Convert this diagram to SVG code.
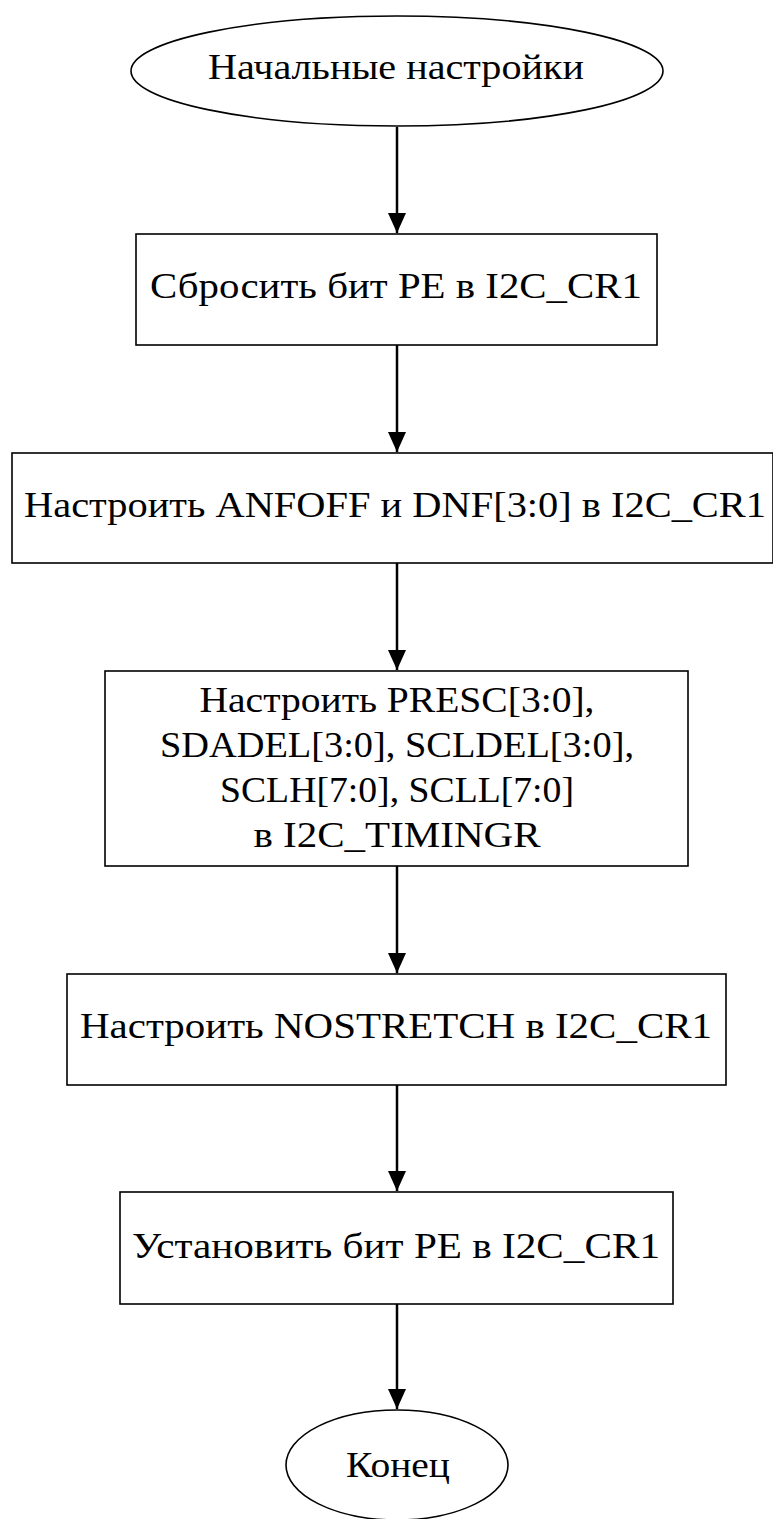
<svg xmlns="http://www.w3.org/2000/svg" width="773" height="1519" viewBox="0 0 773 1519">
<defs>
<marker id="arr" markerWidth="20" markerHeight="18" refX="20" refY="9" orient="auto" markerUnits="userSpaceOnUse">
<path d="M0,0 L20,9 L0,18 Z" fill="#000"/>
</marker>
<style>
.n{fill:#fff;stroke:#000;stroke-width:1.6}
.t{font-family:"Liberation Serif","DejaVu Serif",serif;font-size:36px;fill:#000;text-anchor:middle}
.c{stroke:#000;stroke-width:2.5;fill:none;marker-end:url(#arr)}
</style>
</defs>
<rect width="773" height="1519" fill="#fff"/>
<g id="connectors">
<line class="c" x1="397" y1="127" x2="397" y2="233"/>
<line class="c" x1="397" y1="345" x2="397" y2="452"/>
<line class="c" x1="397" y1="563" x2="397" y2="670"/>
<line class="c" x1="397" y1="866" x2="397" y2="973"/>
<line class="c" x1="397" y1="1085" x2="397" y2="1191"/>
<line class="c" x1="397" y1="1304" x2="397" y2="1409"/>
</g>
<g id="start">
<ellipse class="n" cx="397" cy="71" rx="266" ry="55"/>
<text class="t" x="396" y="79" textLength="376" lengthAdjust="spacingAndGlyphs">Начальные настройки</text>
</g>
<g id="step1">
<rect class="n" x="136" y="234" width="521" height="111"/>
<text class="t" x="396" y="298" textLength="492" lengthAdjust="spacingAndGlyphs">Сбросить бит PE в I2C_CR1</text>
</g>
<g id="step2">
<rect class="n" x="12" y="453" width="761" height="110"/>
<text class="t" x="395" y="517" textLength="742" lengthAdjust="spacingAndGlyphs">Настроить ANFOFF и DNF[3:0] в I2C_CR1</text>
</g>
<g id="step3">
<rect class="n" x="105" y="671" width="583" height="195"/>
<text class="t" x="397" y="712" textLength="395" lengthAdjust="spacingAndGlyphs">Настроить PRESC[3:0],</text>
<text class="t" x="397" y="757" textLength="474" lengthAdjust="spacingAndGlyphs">SDADEL[3:0], SCLDEL[3:0],</text>
<text class="t" x="397" y="802" textLength="354" lengthAdjust="spacingAndGlyphs">SCLH[7:0], SCLL[7:0]</text>
<text class="t" x="397" y="847" textLength="287" lengthAdjust="spacingAndGlyphs">в I2C_TIMINGR</text>
</g>
<g id="step4">
<rect class="n" x="67" y="974" width="659" height="111"/>
<text class="t" x="396" y="1038" textLength="632" lengthAdjust="spacingAndGlyphs">Настроить NOSTRETCH в I2C_CR1</text>
</g>
<g id="step5">
<rect class="n" x="120" y="1192" width="553" height="112"/>
<text class="t" x="396" y="1258" textLength="528" lengthAdjust="spacingAndGlyphs">Установить бит PE в I2C_CR1</text>
</g>
<g id="end">
<ellipse class="n" cx="397" cy="1465" rx="111" ry="55"/>
<text class="t" x="398" y="1477" textLength="104" lengthAdjust="spacingAndGlyphs">Конец</text>
</g>
</svg>
